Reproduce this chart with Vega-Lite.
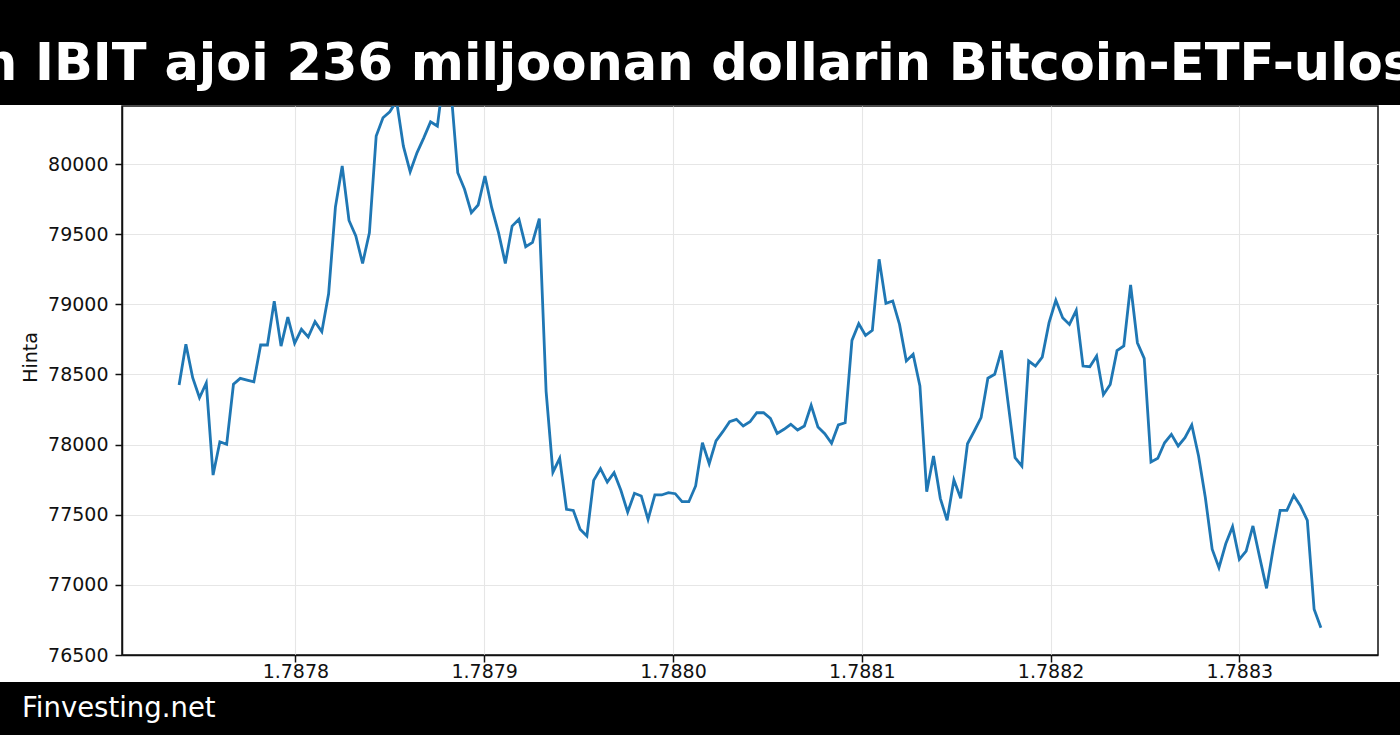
{
  "$schema": "https://vega.github.io/schema/vega-lite/v6.json",
  "padding": 0,
  "background": "white",
  "spacing": 0,
  "config": {"font": "DejaVu Sans", "view": {"stroke": null}},
  "vconcat": [
    {
      "width": 1400,
      "height": 105,
      "view": {"fill": "black", "stroke": null},
      "data": {"values": [{"title": "n IBIT ajoi 236 miljoonan dollarin Bitcoin-ETF-ulos"}]},
      "mark": {"type": "text", "font": "DejaVu Sans", "fontWeight": "bold", "fontSize": 51, "color": "white", "align": "center", "baseline": "alphabetic", "dx": -3, "dy": 27, "clip": true},
      "encoding": {"text": {"field": "title"}}
    },
    {
      "spacing": 0,
      "vconcat": [
        {
          "spacing": 0,
          "hconcat": [
            {
              "width": 20,
              "height": 549,
              "data": {"values": []},
              "mark": {"type": "text"},
              "encoding": {}
            },
            {
              "width": 1256,
              "height": 549,
              "view": {"stroke": "#111111", "strokeWidth": 1.5},
              "data": {"values": [
                {"t": 1787738400, "price": 78425}, {"t": 1787742000, "price": 78715}, {"t": 1787745600, "price": 78477}, {"t": 1787749200, "price": 78334}, {"t": 1787752800, "price": 78439},
                {"t": 1787756400, "price": 77783}, {"t": 1787760000, "price": 78020}, {"t": 1787763600, "price": 78002}, {"t": 1787767200, "price": 78430}, {"t": 1787770800, "price": 78472},
                {"t": 1787774400, "price": 78460}, {"t": 1787778000, "price": 78448}, {"t": 1787781600, "price": 78710}, {"t": 1787785200, "price": 78710}, {"t": 1787788800, "price": 79023},
                {"t": 1787792400, "price": 78702}, {"t": 1787796000, "price": 78909}, {"t": 1787799600, "price": 78722}, {"t": 1787803200, "price": 78822}, {"t": 1787806800, "price": 78767},
                {"t": 1787810400, "price": 78876}, {"t": 1787814000, "price": 78805}, {"t": 1787817600, "price": 79075}, {"t": 1787821200, "price": 79693}, {"t": 1787824800, "price": 79986},
                {"t": 1787828400, "price": 79598}, {"t": 1787832000, "price": 79487}, {"t": 1787835600, "price": 79292}, {"t": 1787839200, "price": 79510}, {"t": 1787842800, "price": 80200},
                {"t": 1787846400, "price": 80330}, {"t": 1787850000, "price": 80373}, {"t": 1787853600, "price": 80450}, {"t": 1787857200, "price": 80128}, {"t": 1787860800, "price": 79945},
                {"t": 1787864400, "price": 80080}, {"t": 1787868000, "price": 80187}, {"t": 1787871600, "price": 80301}, {"t": 1787875200, "price": 80271}, {"t": 1787878800, "price": 80650},
                {"t": 1787882400, "price": 80530}, {"t": 1787886000, "price": 79938}, {"t": 1787889600, "price": 79820}, {"t": 1787893200, "price": 79653}, {"t": 1787896800, "price": 79708},
                {"t": 1787900400, "price": 79915}, {"t": 1787904000, "price": 79689}, {"t": 1787907600, "price": 79511}, {"t": 1787911200, "price": 79292}, {"t": 1787914800, "price": 79558},
                {"t": 1787918400, "price": 79606}, {"t": 1787922000, "price": 79411}, {"t": 1787925600, "price": 79442}, {"t": 1787929200, "price": 79611}, {"t": 1787932800, "price": 78380},
                {"t": 1787936400, "price": 77803}, {"t": 1787940000, "price": 77902}, {"t": 1787943600, "price": 77539}, {"t": 1787947200, "price": 77531}, {"t": 1787950800, "price": 77396},
                {"t": 1787954400, "price": 77348}, {"t": 1787958000, "price": 77745}, {"t": 1787961600, "price": 77828}, {"t": 1787965200, "price": 77733}, {"t": 1787968800, "price": 77800},
                {"t": 1787972400, "price": 77674}, {"t": 1787976000, "price": 77519}, {"t": 1787979600, "price": 77653}, {"t": 1787983200, "price": 77634}, {"t": 1787986800, "price": 77467},
                {"t": 1787990400, "price": 77641}, {"t": 1787994000, "price": 77641}, {"t": 1787997600, "price": 77657}, {"t": 1788001200, "price": 77650}, {"t": 1788004800, "price": 77593},
                {"t": 1788008400, "price": 77593}, {"t": 1788012000, "price": 77705}, {"t": 1788015600, "price": 78013}, {"t": 1788019200, "price": 77864}, {"t": 1788022800, "price": 78026},
                {"t": 1788026400, "price": 78092}, {"t": 1788030000, "price": 78163}, {"t": 1788033600, "price": 78180}, {"t": 1788037200, "price": 78133}, {"t": 1788040800, "price": 78163},
                {"t": 1788044400, "price": 78227}, {"t": 1788048000, "price": 78227}, {"t": 1788051600, "price": 78187}, {"t": 1788055200, "price": 78080}, {"t": 1788058800, "price": 78109},
                {"t": 1788062400, "price": 78145}, {"t": 1788066000, "price": 78104}, {"t": 1788069600, "price": 78133}, {"t": 1788073200, "price": 78280}, {"t": 1788076800, "price": 78125},
                {"t": 1788080400, "price": 78078}, {"t": 1788084000, "price": 78009}, {"t": 1788087600, "price": 78140}, {"t": 1788091200, "price": 78156}, {"t": 1788094800, "price": 78743},
                {"t": 1788098400, "price": 78862}, {"t": 1788102000, "price": 78779}, {"t": 1788105600, "price": 78815}, {"t": 1788109200, "price": 79321}, {"t": 1788112800, "price": 79007},
                {"t": 1788116400, "price": 79024}, {"t": 1788120000, "price": 78857}, {"t": 1788123600, "price": 78596}, {"t": 1788127200, "price": 78644}, {"t": 1788130800, "price": 78418},
                {"t": 1788134400, "price": 77664}, {"t": 1788138000, "price": 77919}, {"t": 1788141600, "price": 77617}, {"t": 1788145200, "price": 77460}, {"t": 1788148800, "price": 77748},
                {"t": 1788152400, "price": 77617}, {"t": 1788156000, "price": 78006}, {"t": 1788159600, "price": 78097}, {"t": 1788163200, "price": 78192}, {"t": 1788166800, "price": 78473},
                {"t": 1788170400, "price": 78501}, {"t": 1788174000, "price": 78672}, {"t": 1788177600, "price": 78287}, {"t": 1788181200, "price": 77907}, {"t": 1788184800, "price": 77847},
                {"t": 1788188400, "price": 78596}, {"t": 1788192000, "price": 78560}, {"t": 1788195600, "price": 78624}, {"t": 1788199200, "price": 78869}, {"t": 1788202800, "price": 79029},
                {"t": 1788206400, "price": 78905}, {"t": 1788210000, "price": 78857}, {"t": 1788213600, "price": 78957}, {"t": 1788217200, "price": 78560}, {"t": 1788220800, "price": 78555},
                {"t": 1788224400, "price": 78632}, {"t": 1788228000, "price": 78356}, {"t": 1788231600, "price": 78428}, {"t": 1788235200, "price": 78670}, {"t": 1788238800, "price": 78703},
                {"t": 1788242400, "price": 79138}, {"t": 1788246000, "price": 78726}, {"t": 1788249600, "price": 78615}, {"t": 1788253200, "price": 77876}, {"t": 1788256800, "price": 77902},
                {"t": 1788260400, "price": 78013}, {"t": 1788264000, "price": 78073}, {"t": 1788267600, "price": 77990}, {"t": 1788271200, "price": 78049}, {"t": 1788274800, "price": 78140},
                {"t": 1788278400, "price": 77919}, {"t": 1788282000, "price": 77621}, {"t": 1788285600, "price": 77254}, {"t": 1788289200, "price": 77122}, {"t": 1788292800, "price": 77293},
                {"t": 1788296400, "price": 77415}, {"t": 1788300000, "price": 77182}, {"t": 1788303600, "price": 77241}, {"t": 1788307200, "price": 77420}, {"t": 1788310800, "price": 77194},
                {"t": 1788314400, "price": 76975}, {"t": 1788318000, "price": 77265}, {"t": 1788321600, "price": 77531}, {"t": 1788325200, "price": 77531}, {"t": 1788328800, "price": 77638},
                {"t": 1788332400, "price": 77562}, {"t": 1788336000, "price": 77460}, {"t": 1788339600, "price": 76826}, {"t": 1788343200, "price": 76695}
              ]},
              "mark": {"type": "line", "color": "#1f77b4", "strokeWidth": 2.8, "clip": true},
              "encoding": {
                "x": {
                  "field": "t",
                  "type": "quantitative",
                  "scale": {"domain": [1787708160, 1788373440], "nice": false, "zero": false},
                  "axis": {
                    "title": null,
                    "values": [1787800000, 1787900000, 1788000000, 1788100000, 1788200000, 1788300000],
                    "labelExpr": "format(datum.value / 1e9, '.4f')",
                    "labelFontSize": 19,
                    "labelColor": "#111111",
                    "labelPadding": 0,
                    "tickSize": 7,
                    "tickWidth": 1.5,
                    "tickColor": "#111111",
                    "domainColor": "#111111",
                    "domainWidth": 1.5,
                    "grid": true,
                    "gridColor": "#e6e6e6",
                    "gridWidth": 1.1
                  }
                },
                "y": {
                  "field": "price",
                  "type": "quantitative",
                  "scale": {"domain": [76500, 80414], "nice": false, "zero": false},
                  "axis": {
                    "title": "Hinta",
                    "titleFontSize": 19,
                    "titleFontWeight": "normal",
                    "titleColor": "#111111",
                    "titleAngle": 270,
                    "titleBaseline": "bottom",
                    "titleX": -82,
                    "titleY": 251,
                    "values": [76500, 77000, 77500, 78000, 78500, 79000, 79500, 80000],
                    "format": "d",
                    "labelFontSize": 19,
                    "labelColor": "#111111",
                    "labelPadding": 7,
                    "tickSize": 7,
                    "tickWidth": 1.5,
                    "tickColor": "#111111",
                    "domainColor": "#111111",
                    "domainWidth": 1.5,
                    "grid": true,
                    "gridColor": "#e6e6e6",
                    "gridWidth": 1.1
                  }
                }
              }
            }
          ]
        },
        {
          "width": 1400,
          "height": 53,
          "view": {"fill": "black", "stroke": null},
          "data": {"values": [{"site": "Finvesting.net"}]},
          "mark": {"type": "text", "font": "DejaVu Sans", "fontSize": 27.5, "color": "white", "align": "left", "baseline": "middle", "dx": -678},
          "encoding": {"text": {"field": "site"}}
        }
      ]
    }
  ]
}
